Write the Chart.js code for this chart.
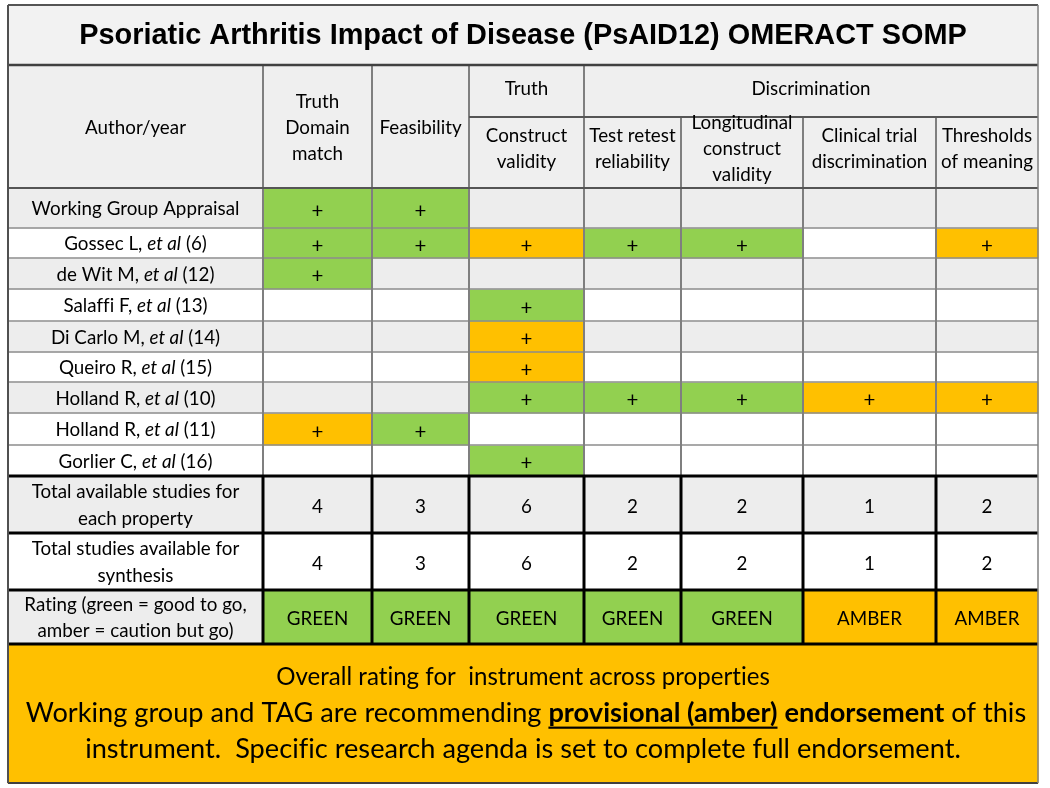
<!DOCTYPE html>
<html>
<head>
<meta charset="utf-8">
<script src="https://cdn.jsdelivr.net/npm/chart.js@4.4.1/dist/chart.umd.min.js"></script>
<style>
  body { margin: 0; background: #fff; }
  canvas { display: block; }
</style>
</head>
<body>
<canvas id="somp" width="1050" height="788"></canvas>
<script>
// ---- table content ----
const title = 'Psoriatic Arthritis Impact of Disease (PsAID12) OMERACT SOMP';
const firstHeader = 'Author/year';
const groups = ['Truth', 'Discrimination'];
const properties = [
  ['Truth', 'Domain', 'match'],
  ['Feasibility'],
  ['Construct', 'validity'],
  ['Test retest', 'reliability'],
  ['Longitudinal', 'construct', 'validity'],
  ['Clinical trial', 'discrimination'],
  ['Thresholds', 'of meaning']
];
const authors = ['Working Group Appraisal', 'Gossec L', 'de Wit M', 'Salaffi F', 'Di Carlo M',
  'Queiro R', 'Holland R', 'Holland R', 'Gorlier C'];
const refs = [null, 6, 12, 13, 14, 15, 10, 11, 16];
// G = green "+", A = amber "+", '' = no study
const marks = [
  ['G', 'G', '', '', '', '', ''],
  ['G', 'G', 'A', 'G', 'G', '', 'A'],
  ['G', '', '', '', '', '', ''],
  ['', '', 'G', '', '', '', ''],
  ['', '', 'A', '', '', '', ''],
  ['', '', 'A', '', '', '', ''],
  ['', '', 'G', 'G', 'G', 'A', 'A'],
  ['A', 'G', '', '', '', '', ''],
  ['', '', 'G', '', '', '', '']
];
const summaryLabels = [
  ['Total available studies for', 'each property'],
  ['Total studies available for', 'synthesis'],
  ['Rating (green = good to go,', 'amber = caution but go)']
];
const totalAvailable = [4, 3, 6, 2, 2, 1, 2];
const totalSynthesis = [4, 3, 6, 2, 2, 1, 2];
const ratings = ['GREEN', 'GREEN', 'GREEN', 'GREEN', 'GREEN', 'AMBER', 'AMBER'];
const overallTitle = 'Overall rating for  instrument across properties';
const overallText = [
  [{ t: 'Working group and TAG are recommending ' }, { t: 'provisional (amber)', b: true, u: true },
   { t: ' ' }, { t: 'endorsement', b: true }, { t: ' of this' }],
  [{ t: 'instrument.  Specific research agenda is set to complete full endorsement.' }]
];

// ---- layout (pixel units of the linear scales) ----
const colEdges = [8, 263, 372, 469, 584, 681, 803, 936, 1038];
const titleBand = [5, 65];
const headerBand = [65, 188];
const groupBottom = 117;
const studyEdges = [188, 228, 258, 289, 321, 352, 382, 413, 445, 476];
const summaryEdges = [476, 533, 590, 644];
const footerBand = [644, 783];

const GREEN = '#92d050';
const AMBER = '#ffc000';
const GRAY = '#ededed';
const WHITE = '#ffffff';
const studyShade = [GRAY, WHITE, GRAY, WHITE, GRAY, WHITE, GRAY, WHITE, WHITE];
const summaryShade = [GRAY, WHITE, GRAY];
const markColor = { G: GREEN, A: AMBER };
const ratingColor = { GREEN: GREEN, AMBER: AMBER };

const BODY = 'Lato';

// one dataset per table row: floating horizontal bars, one per cell
function rowDataset(y0, y1, cells) {
  return {
    data: cells.map(c => ({ x: [c[0], c[1]], y: (y0 + y1) / 2 })),
    backgroundColor: cells.map(c => c[2]),
    barThickness: y1 - y0,
    grouped: false,
    borderWidth: 0,
    inflateAmount: 0.5
  };
}
function span(i0, i1, color) { return [colEdges[i0], colEdges[i1], color]; }

const datasets = [];
datasets.push(rowDataset(titleBand[0], titleBand[1], [span(0, 8, '#f2f2f2')]));
datasets.push(rowDataset(headerBand[0], headerBand[1], [span(0, 8, '#efefef')]));
marks.forEach((row, r) => {
  const shade = studyShade[r];
  const cells = [span(0, 1, shade)];
  row.forEach((m, c) => cells.push(span(c + 1, c + 2, markColor[m] || shade)));
  datasets.push(rowDataset(studyEdges[r], studyEdges[r + 1], cells));
});
summaryLabels.forEach((_, r) => {
  const shade = summaryShade[r];
  const cells = [span(0, 1, shade)];
  for (let c = 0; c < 7; c++) {
    cells.push(span(c + 1, c + 2, r === 2 ? ratingColor[ratings[c]] : shade));
  }
  datasets.push(rowDataset(summaryEdges[r], summaryEdges[r + 1], cells));
});
datasets.push(rowDataset(footerBand[0], footerBand[1], [span(0, 8, AMBER)]));

function font(size, bold, italic, family) {
  return (italic ? 'italic ' : '') + (bold ? 'bold ' : '') + size + 'px "' + family + '"';
}
function measureSegs(ctx, segs, size, family) {
  let w = 0;
  segs.forEach(s => { ctx.font = font(size, s.b, s.i, family); s.w = ctx.measureText(s.t).width; w += s.w; });
  return w;
}
function drawSegs(ctx, segs, cx, cy, size, family) {
  const total = measureSegs(ctx, segs, size, family);
  let x = cx - total / 2;
  ctx.textAlign = 'left';
  ctx.textBaseline = 'middle';
  segs.forEach(s => {
    ctx.font = font(size, s.b, s.i, family);
    ctx.fillText(s.t, x, cy);
    if (s.u) ctx.fillRect(x, cy + size * 0.5, s.w, Math.max(1.5, size * 0.08));
    x += s.w;
  });
}
function fitSize(ctx, segs, target, family) {
  return 20 * target / measureSegs(ctx, segs, 20, family);
}
function text(ctx, t, cx, cy, size, opts) {
  drawSegs(ctx, [{ t: t, b: opts && opts.b }], cx, cy, size, (opts && opts.family) || BODY);
}

const tablePlugin = {
  id: 'tableText',
  afterDatasetsDraw(chart) {
    const ctx = chart.ctx;
    const xs = chart.scales.x, ys = chart.scales.y;
    const px = v => xs.getPixelForValue(v);
    const py = v => ys.getPixelForValue(v);
    const colMid = i => (px(colEdges[i]) + px(colEdges[i + 1])) / 2;
    ctx.save();
    // a tiny spacing switches off ligatures such as "ti" and "ffi"
    ctx.letterSpacing = '0.01px';

    function hline(y, x0, x1, color, w) {
      ctx.strokeStyle = color; ctx.lineWidth = w;
      ctx.beginPath(); ctx.moveTo(px(x0), py(y)); ctx.lineTo(px(x1), py(y)); ctx.stroke();
    }
    function vline(x, y0, y1, color, w) {
      ctx.strokeStyle = color; ctx.lineWidth = w;
      ctx.beginPath(); ctx.moveTo(px(x), py(y0)); ctx.lineTo(px(x), py(y1)); ctx.stroke();
    }
    const L = colEdges[0], R = colEdges[8];
    const GRID = '#8c8c8c';
    // study grid
    studyEdges.slice(1, -1).forEach(y => hline(y, L, R, GRID, 1.5));
    [1, 2, 3, 4].forEach(i => vline(colEdges[i], headerBand[0], studyEdges[9], '#7f7f7f', 2));
    [5, 6, 7].forEach(i => vline(colEdges[i], groupBottom, studyEdges[9], '#7f7f7f', 2));
    // summary grid
    for (let i = 1; i < 8; i++) vline(colEdges[i], summaryEdges[0], summaryEdges[3], '#000', 3);
    summaryEdges.forEach(y => hline(y, L, R, '#000', 3));
    // header & frame
    hline(titleBand[0], L, R, '#555', 2);
    hline(titleBand[1], L, R, '#404040', 2.5);
    hline(groupBottom, colEdges[3], R, '#555', 2);
    hline(headerBand[1], L, R, '#555', 2);
    hline(footerBand[1], L, R, '#404040', 2);
    vline(L, titleBand[0], footerBand[1], '#505050', 2);
    vline(R, titleBand[0], footerBand[1], '#808080', 1.5);

    ctx.fillStyle = '#000';
    // title
    const tSegs = [{ t: title, b: true }];
    drawSegs(ctx, tSegs, (px(L) + px(R)) / 2, py(36), fitSize(ctx, tSegs, 888, 'Liberation Sans'), 'Liberation Sans');

    // headers
    const BS = 18.8;
    text(ctx, firstHeader, colMid(0), py(128), BS);
    text(ctx, groups[0], colMid(3), py(89), BS);
    text(ctx, groups[1], (px(colEdges[4]) + px(colEdges[8])) / 2, py(89), BS);
    properties.forEach((lines, c) => {
      const centre = c < 2 ? 128 : 149;
      lines.forEach((ln, k) => {
        text(ctx, ln, colMid(c + 1), py(centre + (k - (lines.length - 1) / 2) * 26), BS);
      });
    });

    // study rows
    authors.forEach((a, r) => {
      const cy = py((studyEdges[r] + studyEdges[r + 1]) / 2);
      const segs = refs[r] === null ? [{ t: a }]
        : [{ t: a + ', ' }, { t: 'et al', i: true }, { t: ' (' + refs[r] + ')' }];
      drawSegs(ctx, segs, colMid(0), cy + 1, BS, BODY);
      marks[r].forEach((m, c) => {
        if (m) text(ctx, '+', colMid(c + 1), cy + 3, 20.5);
      });
    });

    // summary rows
    summaryLabels.forEach((lines, r) => {
      const mid = (summaryEdges[r] + summaryEdges[r + 1]) / 2;
      lines.forEach((ln, k) => text(ctx, ln, colMid(0), py(mid + (k - 0.5) * 26.5) + 1, BS));
      for (let c = 0; c < 7; c++) {
        const v = r === 0 ? totalAvailable[c] : r === 1 ? totalSynthesis[c] : ratings[c];
        text(ctx, String(v), colMid(c + 1), py(mid) + 2, BS);
      }
    });

    // overall box
    const cx = (px(L) + px(R)) / 2;
    const s1 = [{ t: overallTitle }];
    drawSegs(ctx, s1, cx, py(677), fitSize(ctx, s1, 494, BODY), BODY);
    const size2 = fitSize(ctx, overallText[0], 1001, BODY);
    drawSegs(ctx, overallText[0], cx + 3, py(713), size2, BODY);
    drawSegs(ctx, overallText[1], cx, py(749), size2, BODY);
    ctx.restore();
  }
};

new Chart(document.getElementById('somp'), {
  type: 'bar',
  data: { datasets: datasets },
  options: {
    indexAxis: 'y',
    responsive: false,
    animation: false,
    events: [],
    layout: { padding: 0 },
    scales: {
      x: { type: 'linear', min: 0, max: 1050, offset: false, display: false },
      y: { type: 'linear', min: 0, max: 788, reverse: true, offset: false, display: false }
    },
    plugins: { legend: { display: false }, tooltip: { enabled: false } }
  },
  plugins: [tablePlugin]
});
</script>
</body>
</html>
